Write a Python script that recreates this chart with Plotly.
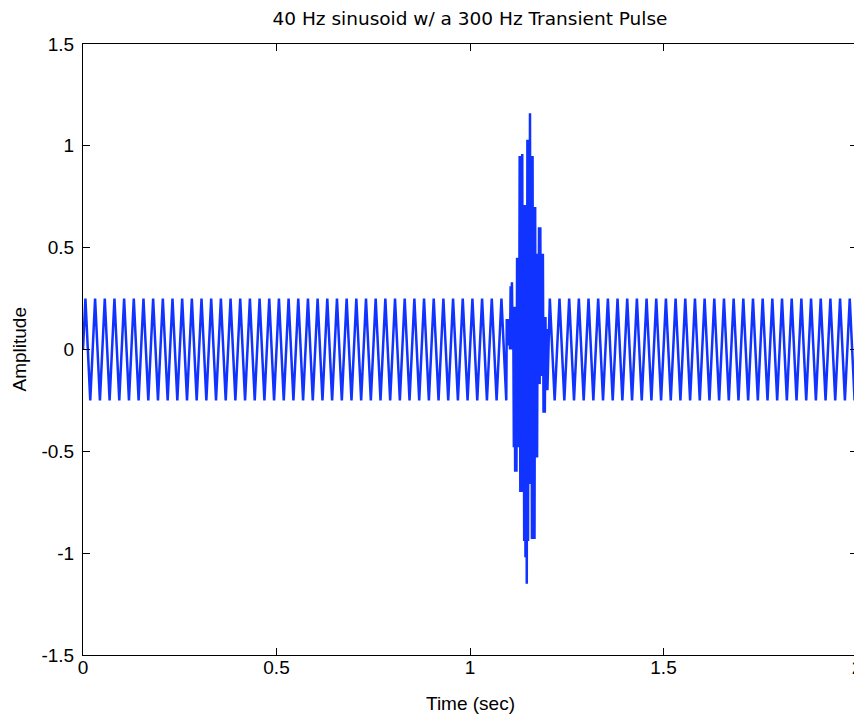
import numpy as np
import plotly.graph_objects as go

# ---- data ----
# 40 Hz carrier: successive peak / trough values (one every 1/80 s, first at 0.00625 s)
carrier_before = [
    0.25, -0.25, 0.25, -0.25, 0.25, -0.25, 0.25, -0.25, 0.25, -0.25,
    0.25, -0.25, 0.25, -0.25, 0.25, -0.25, 0.25, -0.25, 0.25, -0.25,
    0.25, -0.25, 0.25, -0.25, 0.25, -0.25, 0.25, -0.25, 0.25, -0.25,
    0.25, -0.25, 0.25, -0.25, 0.25, -0.25, 0.25, -0.25, 0.25, -0.25,
    0.25, -0.25, 0.25, -0.25, 0.25, -0.25, 0.25, -0.25, 0.25, -0.25,
    0.25, -0.25, 0.25, -0.25, 0.25, -0.25, 0.25, -0.25, 0.25, -0.25,
    0.25, -0.25, 0.25, -0.25, 0.25, -0.25, 0.25, -0.25, 0.25, -0.25,
    0.25, -0.25, 0.25, -0.25, 0.25, -0.25, 0.25, -0.25, 0.25, -0.25,
    0.25, -0.25, 0.25, -0.25, 0.25, -0.25, 0.25, -0.25,
]
carrier_after = [
    0.25, -0.25, 0.25, -0.25, 0.25, -0.25, 0.25, -0.25, 0.25, -0.25,
    0.25, -0.25, 0.25, -0.25, 0.25, -0.25, 0.25, -0.25, 0.25, -0.25,
    0.25, -0.25, 0.25, -0.25, 0.25, -0.25, 0.25, -0.25, 0.25, -0.25,
    0.25, -0.25, 0.25, -0.25, 0.25, -0.25, 0.25, -0.25, 0.25, -0.25,
    0.25, -0.25, 0.25, -0.25, 0.25, -0.25, 0.25, -0.25, 0.25, -0.25,
    0.25, -0.25, 0.25, -0.25, 0.25, -0.25, 0.25, -0.25, 0.25, -0.25,
    0.25, -0.25, 0.25, -0.25,
]
# 300 Hz transient (riding on the carrier), one value every 1/600 s from 1.095 s
pulse_values = [
    0.15, 0.05, 0.15, 0.02, 0.15, 0.00, 0.31, 0.00, 0.33, 0.05,
    0.21, -0.48, 0.21, -0.60, 0.21, -0.60, 0.45, -0.48, 0.45, -0.48,
    0.95, -0.70, 0.95, -0.70, 0.96, -0.70, 0.71, -0.94, 0.71, -1.02,
    0.68, -1.15, 1.03, -0.94, 1.03, -0.66, 1.16, -0.66, 0.95, -0.93,
    0.95, -0.93, 0.70, -0.93, 0.70, -0.53, 0.47, -0.53, 0.47, -0.17,
    0.60, -0.17, 0.60, -0.13, 0.47, -0.13, 0.47, -0.31, 0.16, -0.31,
    0.16, -0.20, 0.10, -0.20,
]
signal_start = [0.0]
signal_end = [0.0]

# sampling instants
carrier_first, carrier_step = 0.00625, 0.0125
pulse_first, pulse_step = 1.095, 1.0 / 600.0
t_start, t_end = 0.0, 2.0

x_ticks = [0, 0.5, 1, 1.5, 2]
x_tick_text = ["0", "0.5", "1", "1.5", "2"]
y_ticks = [-1.5, -1, -0.5, 0, 0.5, 1, 1.5]
y_tick_text = ["-1.5", "-1", "-0.5", "0", "0.5", "1", "1.5"]

# ---- assemble the time series ----
n_before = len(carrier_before)
t_before = carrier_first + carrier_step * np.arange(n_before)
t_pulse = pulse_first + pulse_step * np.arange(len(pulse_values))
k_after0 = int(round((t_pulse[-1] - carrier_first) / carrier_step)) + 1
t_after = carrier_first + carrier_step * np.arange(k_after0, k_after0 + len(carrier_after))

t = np.concatenate([[t_start], t_before, t_pulse, t_after, [t_end]])
y = np.concatenate([signal_start, carrier_before, pulse_values, carrier_after, signal_end])

blue = "#1133ff"
font_family = "Liberation Sans, Arial, sans-serif"
tick_font = dict(family=font_family, size=19, color="black")

# the page body adds an 8 px offset; figure is sized so the plot box lands
# at x 83..857, y 44..655 of the 862x716 window
W, H = 854, 708

fig = go.Figure()
fig.add_trace(go.Scatter(
    x=t, y=y, mode="lines",
    line=dict(color=blue, width=2.5, simplify=False),
    showlegend=False, hoverinfo="skip",
))

axis_common = dict(
    showgrid=False, zeroline=False, showline=True, linecolor="black", linewidth=1,
    mirror="ticks", ticks="inside", ticklen=7, tickwidth=1, tickcolor="black",
    tickfont=tick_font, automargin=False, ticklabeloverflow="allow",
)

fig.update_layout(
    width=W, height=H, autosize=False,
    margin=dict(l=75, r=5, t=36, b=61),
    paper_bgcolor="white", plot_bgcolor="white",
    title=dict(
        text="40 Hz sinusoid w/ a 300 Hz Transient Pulse",
        font=dict(family="DejaVu Sans, sans-serif", size=18.5, color="black"),
        x=0.5, xref="paper", xanchor="center",
        y=1 - 11 / H, yref="container", yanchor="middle",
    ),
    xaxis=dict(
        range=[0, 2], tickvals=x_ticks, ticktext=x_tick_text,
        ticklabelstandoff=-5,
        **axis_common,
    ),
    yaxis=dict(
        range=[-1.5, 1.5], tickvals=y_ticks, ticktext=y_tick_text,
        ticklabelstandoff=4,
        **axis_common,
    ),
    annotations=[
        dict(text="Time (sec)", xref="paper", yref="paper", x=0.5, y=0,
             xanchor="center", yanchor="middle", yshift=-48, showarrow=False,
             font=tick_font),
        dict(text="Amplitude", xref="paper", yref="paper", x=0, y=0.5,
             xanchor="center", yanchor="middle", xshift=-64, textangle=-90,
             showarrow=False, font=tick_font),
    ],
)

fig.write_html("out.html")
